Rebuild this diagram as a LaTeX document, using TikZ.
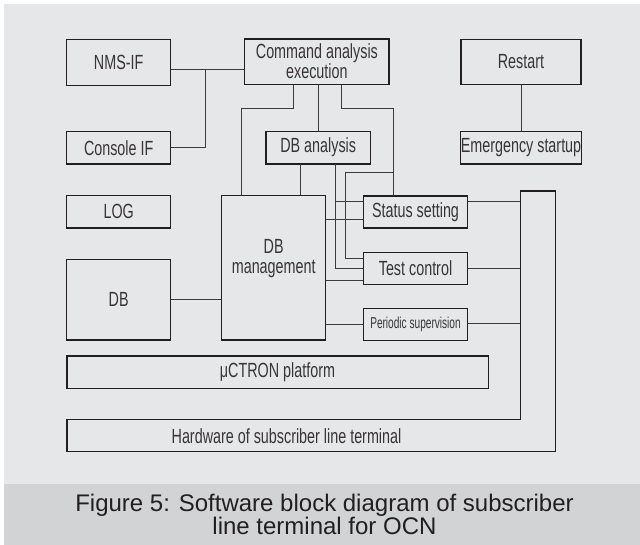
\documentclass[tikz,border=0pt]{standalone}
\usepackage{fontspec}
\setmainfont{Liberation Sans}
\newfontfamily\condfont[FakeStretch=0.7]{Liberation Sans}
\newfontfamily\narrowfont[FakeStretch=0.64]{Liberation Sans}
\usepackage{xcolor}
\usepackage{tikz}
\tikzset{>=latex}
\usetikzlibrary{calc}
\definecolor{panelgray}{HTML}{E6E7E8}
\definecolor{bandgray}{HTML}{D1D3D4}
\definecolor{ink}{HTML}{231F20}
\definecolor{wiregray}{HTML}{3C3C3C}
\def\px{1pt}

\tikzset{
  blk/.style={draw=ink, line width=1.4pt, inner sep=0pt, align=center,
    text=ink!90, font=\condfont\fontsize{20.5}{16.6}\selectfont},
  lbl/.style={inner sep=0pt, align=center, text=ink!90,
    font=\condfont\fontsize{20.5}{18}\selectfont},
  wire/.style={draw=wiregray, line width=1pt},
}

\begin{document}
\begin{tikzpicture}[x=\px, y=-\px]

    \useasboundingbox (0, 0) rectangle (640, 545);
    \fill[panelgray] (4, 4) rectangle (640, 484);
    \fill[bandgray] (4, 484) rectangle (640, 545);

    % left column
    \node[blk, minimum width=104pt, minimum height=46pt] (nms) at (118.7, 62.3) {NMS-IF};
    \node[blk, minimum width=104pt, minimum height=32.5pt] (console) at (118.7, 147.7) {Console IF};
    \node[blk, minimum width=104pt, minimum height=32.3pt] (log) at (118.7, 211.9) {LOG};
    \node[blk, minimum width=104pt, minimum height=80.7pt] (db) at (118.7, 299.7) {DB};

    % middle
    \node[blk, minimum width=144.3pt, minimum height=45.3pt] (cmd) at (316.9, 61.6) {Command analysis\\execution};
    \node[blk, minimum width=104.3pt, minimum height=32.5pt] (dban) at (318.2, 147.7) {DB analysis};
    \node[blk, minimum width=104pt, minimum height=144.3pt,
      font=\condfont\fontsize{20.5}{19.5}\selectfont] (dbm) at (273.7, 267.9) {DB\\management\\[3pt]\mbox{}};

    \node[blk, minimum width=104.4pt, minimum height=32pt] (status) at (415.5, 212) {Status setting};
    \node[blk, minimum width=104.4pt, minimum height=32.4pt] (test) at (415.5, 268.5) {Test control};
    \node[blk, minimum width=104.4pt, minimum height=32.4pt,
      font=\narrowfont\fontsize{15.8}{16}\selectfont] (period) at (415.5, 324.5) {Periodic supervision};

    % right column
    \node[blk, minimum width=120pt, minimum height=45pt] (restart) at (521, 61.8) {Restart};
    \node[blk, minimum width=120pt, minimum height=32.5pt] (emerg) at (521, 147.7) {Emergency startup};

    % platform and hardware
    \node[blk, minimum width=421.4pt, minimum height=32.3pt] (ctron) at (277.5, 372.2) {μCTRON platform};

    \coordinate (hwa) at (66.8, 419.3);
    \coordinate (hwb) at (520.4, 419.3);
    \coordinate (hwc) at (520.4, 191);
    \coordinate (hwd) at (555.5, 191);
    \coordinate (hwe) at (555.5, 451.7);
    \coordinate (hwf) at (66.8, 451.7);
    \draw[ink, line width=1.4pt] (hwa) -- (hwb) -- (hwc) -- (hwd) -- (hwe) -- (hwf) -- cycle;
    \node[lbl, anchor=base] (hwtext) at (286.5, 443.3) {Hardware of subscriber line terminal};

    % bend points
    \coordinate (j1) at (205.7, 70);
    \coordinate (k1) at (293.3, 108.3);
    \coordinate (k2) at (241, 108.3);
    \coordinate (k3) at (341.2, 108.3);
    \coordinate (k4) at (393.3, 108.3);
    \coordinate (k5) at (393.3, 172.3);
    \coordinate (k6) at (345, 172.3);
    \coordinate (k7) at (345, 258.3);
    \coordinate (k8) at (300.3, 164);
    \coordinate (k9) at (335.7, 164);
    \coordinate (k10) at (335.7, 201.7);

    \draw[wire] (nms.east |- j1) -- (cmd.west |- j1);
    \draw[wire] (j1) |- (console.east);

    \draw[wire] (cmd.south -| k1) -- (k1) -- (k2) -- (dbm.north -| k2);
    \draw[wire] (cmd.south -| dban.north) -- (dban.north);
    \draw[wire] (cmd.south -| k3) -- (k3) -- (k4) -- (status.north -| k4);
    \draw[wire] (k5) -- (k6) -- (k7) -- (test.west |- k7);

    \draw[wire] (k8) -- (dbm.north -| k8);
    \draw[wire] (k9) |- (test.west);
    \draw[wire] (k10) -- (status.west |- k10);

    \draw[wire] (dbm.east |- 0,219.3) -- (status.west |- 0,219.3);
    \draw[wire] (dbm.east |- 0,280.7) -- (test.west |- 0,280.7);
    \draw[wire] (dbm.east |- period.west) -- (period.west);
    \draw[wire] (db.east) -- (dbm.west |- db.east);

    \draw[wire] (restart.south) -- (emerg.north);

\foreach \n/\y in {status/201.7, test/268.3, period/323.3} {
      \draw[wire] (\n.east |- 0,\y) -- (hwc |- 0,\y);
}

    \node[align=center, inner sep=0pt, text=ink, font=\fontsize{24}{22.6}\selectfont] (caption) at (324.5, 514.3)
      {Figure 5: Software block diagram of subscriber\\line terminal for OCN};

\end{tikzpicture}
\end{document}
